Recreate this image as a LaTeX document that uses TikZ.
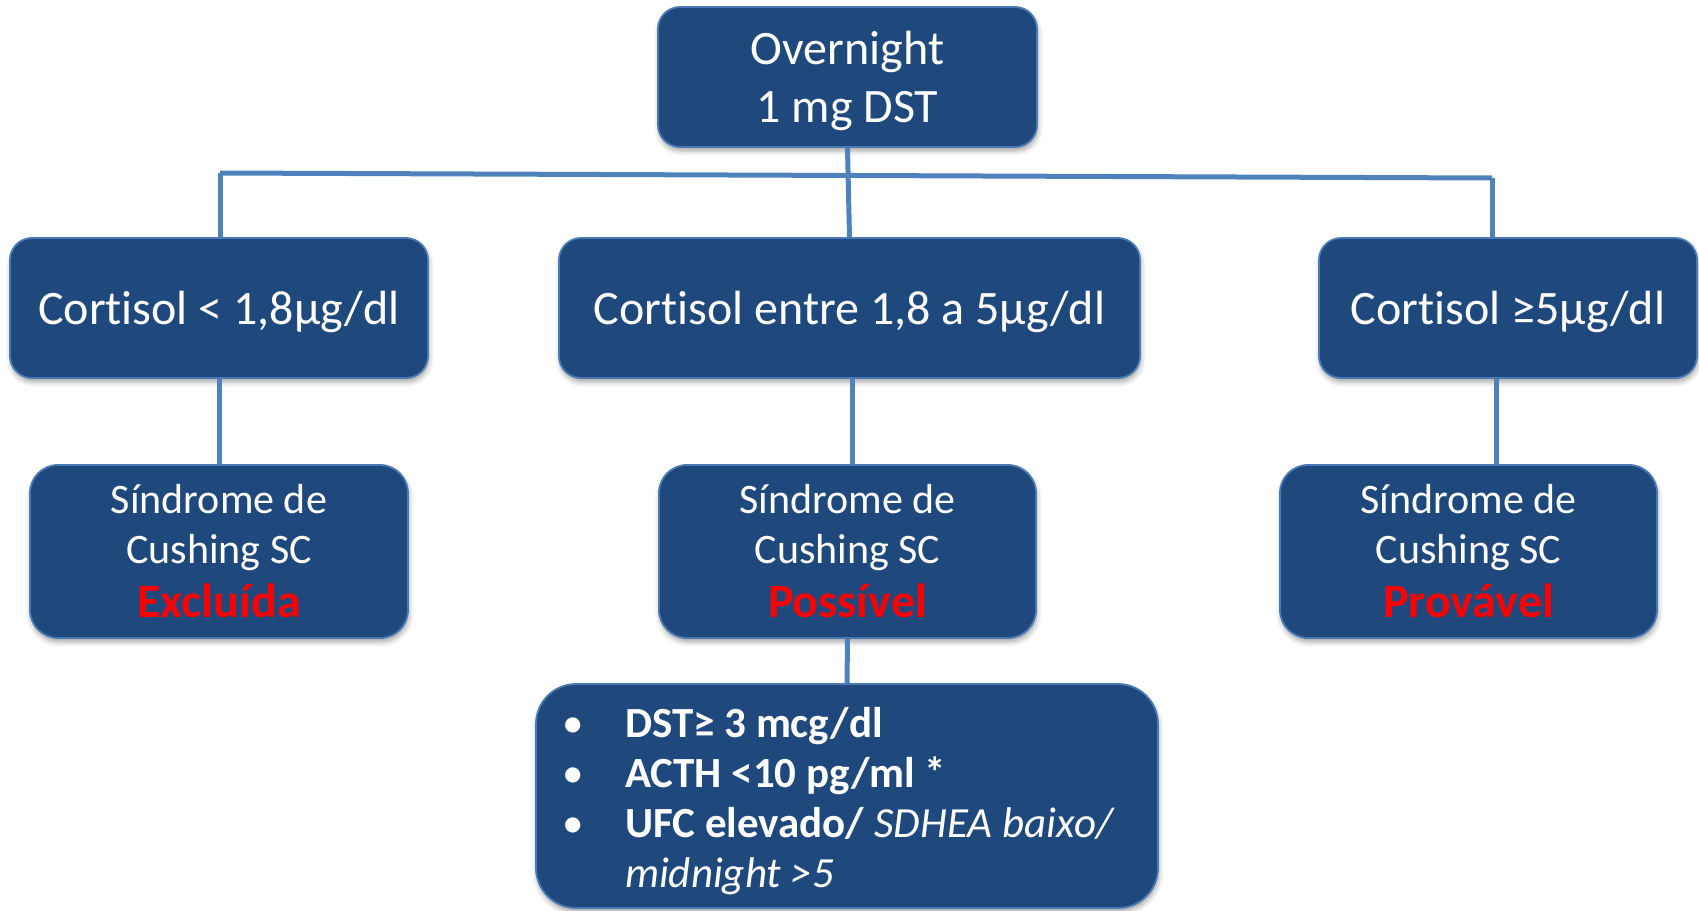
\documentclass[tikz,border=0pt]{standalone}
\usepackage{fontspec}
\setmainfont{Carlito}[Ligatures=CommonOff]
\usetikzlibrary{shadows.blur,calc}

\definecolor{boxfill}{HTML}{1F497D}
\definecolor{boxedge}{HTML}{4A7AB5}
\definecolor{linkblue}{HTML}{4F81BD}
\definecolor{alertred}{HTML}{FF0000}

\tikzset{
  flowbox/.style={rectangle, rounded corners=#1, fill=boxfill, draw=boxedge,
    line width=1.8pt, text=white, align=center, inner sep=0pt,
    blur shadow={shadow xshift=1pt, shadow yshift=-4pt,
      shadow blur radius=5pt, shadow opacity=35}},
  flowbox/.default=22pt,
  link/.style={draw=linkblue, line width=5pt},
  bigtext/.style={font=\fontsize{48}{58}\selectfont, text depth=0pt},
  midtext/.style={font=\fontsize{42}{50}\selectfont},
}

\newcommand{\verdict}[1]{{\fontsize{48}{52}\selectfont\bfseries\color{alertred}#1}}

\begin{document}
\begin{tikzpicture}[x=1pt, y=-1pt]
  \useasboundingbox (0,0) rectangle (1699,910);

  % root
  \node[flowbox, bigtext, minimum width=379pt, minimum height=140pt] (top)
    at (847.5,77) {Overnight\\1 mg DST};

  % cortisol ranges
  \node[flowbox, bigtext, minimum width=418pt, minimum height=140pt] (r2l)
    at (219,308) {Cortisol < 1,8µg/dl};
  \node[flowbox, bigtext, minimum width=581pt, minimum height=140pt] (r2m)
    at (849.5,308) {Cortisol entre 1,8 a 5µg/dl};
  \node[flowbox, bigtext, minimum width=378pt, minimum height=140pt] (r2r)
    at (1508,308) {Cortisol ≥5µg/dl};

  % conclusions
  \node[flowbox=28pt, midtext, minimum width=378pt, minimum height=173pt] (r3l)
    at (219,551.5) {Síndrome de\\Cushing SC\\[4pt]\verdict{Excluída}};
  \node[flowbox=28pt, midtext, minimum width=377pt, minimum height=173pt] (r3m)
    at (847.5,551.5) {Síndrome de\\Cushing SC\\[4pt]\verdict{Possível}};
  \node[flowbox=28pt, midtext, minimum width=377pt, minimum height=173pt] (r3r)
    at (1468.5,551.5) {Síndrome de\\Cushing SC\\[4pt]\verdict{Provável}};

  % further tests (the trailing space keeps the list left of centre)
  \node[flowbox=40pt, minimum width=622pt, minimum height=224pt,
        font=\fontsize{43}{50}\selectfont, text height=35pt, text depth=153pt] (bot)
    at (847,796) {%
      \begin{tabular}[t]{@{}p{63pt}@{}l@{}}
        • & \textbf{DST≥ 3 mcg/dl}\\
        • & \textbf{ACTH <10 pg/ml *}\\
        • & \textbf{UFC elevado/} \textit{SDHEA baixo/}\\
          & \textit{midnight >5}
      \end{tabular}\hspace*{17pt}};

  % bus and branches
  \coordinate (busL) at (220,173);
  \coordinate (busR) at (1492,178);
  \coordinate (midx) at (852,0);
  \coordinate (rightx) at (1496,0);

  \draw[link] (busL) -- (busR);
  \draw[link] (top.south) -- (r2m.north);
  \draw[link] (busL) -- (busL |- r2l.north);
  \draw[link] (busR) -- (busR |- r2r.north);

  \draw[link] (r2l.south) -- (r3l.north);
  \draw[link] (midx |- r2m.south) -- (midx |- r3m.north);
  \draw[link] (rightx |- r2r.south) -- (rightx |- r3r.north);

  \draw[link] (r3m.south) -- (bot.north);
\end{tikzpicture}
\end{document}
